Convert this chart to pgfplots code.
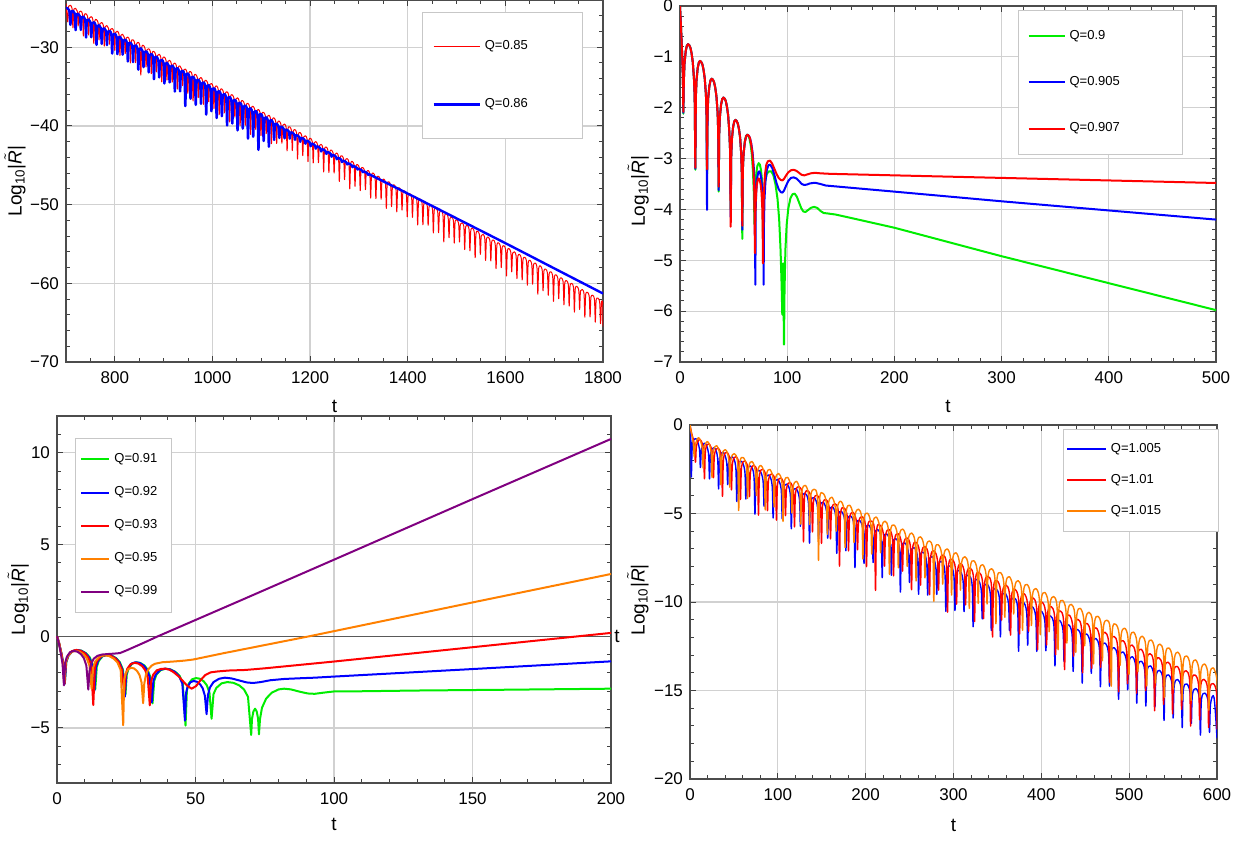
\documentclass[border=0pt]{standalone}
\usepackage{fontspec}
\setmainfont{Liberation Sans}
\usepackage{pgfplots}
\pgfplotsset{compat=1.18}
\definecolor{mgreen}{rgb}{0,0.93,0}
\definecolor{morange}{rgb}{1,0.5,0}
\definecolor{mpurple}{rgb}{0.5,0,0.5}
\pgfplotsset{
  mstyle/.style={
    scale only axis, anchor=south west,
    axis line style={black!70, line width=0.6pt},
    tick style={black!75, line width=0.5pt},
    major tick length=3.2pt, minor tick length=1.8pt,
    xmajorgrids, ymajorgrids,
    major grid style={black!18, line width=0.6pt},
    tick label style={font=\fontsize{8.5}{10}\selectfont},
    every axis label/.append style={font=\fontsize{9.5}{11}\selectfont},
    xticklabel style={yshift=-1.2pt},
    legend cell align=left,
  }
}
\newcommand{\ylab}{Log\textsubscript{10}|$\tilde{\textit{R}}$|}
\begin{document}
\begin{tikzpicture}
\path[use as bounding box] (0,0) rectangle (628pt,420.5pt);
% ---------------- Panel 1 ----------------
\begin{axis}[mstyle, at={(33pt,239.5pt)}, width=268.5pt, height=181pt,
  xmin=700, xmax=1800, ymin=-70, ymax=-24,
  xtick={800,1000,1200,1400,1600,1800}, xticklabels={800,1000,1200,1400,1600,1800},
  ytick={-70,-60,-50,-40,-30}, yticklabels={−70,−60,−50,−40,−30},
  minor xtick={700,750,...,1800}, minor ytick={-70,-68,...,-24},
  xlabel={t}, ylabel={\ylab},
  xlabel style={at={(axis description cs:0.5,-0.124)}, anchor=center},
  ylabel style={at={(axis description cs:-0.095,0.5)}, anchor=center},
  legend style={at={(rel axis cs:0.663,0.967)}, anchor=north west, draw=black!22, fill=white,
    font=\fontsize{6.5}{7.5}\selectfont, inner xsep=5pt, inner ysep=12pt, row sep=19pt},
  legend image code/.code={\draw[#1, sharp plot] (0pt,0pt) -- (23pt,0pt);},
  every axis plot/.append style={smooth, tension=0.5, line join=round},
]
\addplot[red, line width=0.5pt] coordinates {
(700,-24.45)
(703.5,-26.77) (705.5,-24.79) (712.2,-25.02)
(714.2,-27.54) (716.2,-25.16) (722.9,-25.39)
(724.9,-27.31) (726.9,-25.53) (733.6,-25.76)
(735.6,-28.58) (737.6,-25.90) (744.3,-26.13)
(746.3,-28.45) (748.3,-26.27) (755.0,-26.50)
(757.0,-29.52) (759.0,-26.64) (765.7,-26.87)
(767.7,-29.08) (769.7,-27.00) (776.4,-27.23)
(778.4,-29.85) (780.4,-27.37) (787.1,-27.60)
(789.1,-29.62) (791.1,-27.74) (797.8,-27.97)
(799.8,-30.39) (801.8,-28.11) (808.5,-28.34)
(810.5,-31.06) (812.5,-28.48) (819.2,-28.71)
(821.2,-30.83) (823.2,-28.85) (829.9,-29.08)
(831.9,-32.00) (833.9,-29.22) (840.6,-29.45)
(842.6,-31.97) (844.6,-29.59) (851.3,-29.82)
(853.3,-33.54) (855.3,-29.96) (862.0,-30.19)
(864.0,-32.51) (866.0,-30.33) (872.7,-30.56)
(874.7,-33.37) (876.7,-30.69) (883.4,-30.92)
(885.4,-33.14) (887.4,-31.06) (894.1,-31.29)
(896.1,-34.41) (898.1,-31.43) (904.8,-31.66)
(906.8,-34.18) (908.8,-31.80) (915.5,-32.03)
(917.5,-34.45) (919.5,-32.17) (926.2,-32.40)
(928.2,-35.32) (930.2,-32.54) (936.9,-32.77)
(938.9,-34.89) (940.9,-32.91) (947.6,-33.14)
(949.6,-35.86) (951.6,-33.28) (958.3,-33.51)
(960.3,-36.83) (962.3,-33.65) (969.0,-33.88)
(971.0,-36.40) (973.0,-34.02) (979.7,-34.25)
(981.7,-37.26) (983.7,-34.38) (990.4,-34.61)
(992.4,-36.93) (994.4,-34.75) (1001.1,-34.98)
(1003.1,-37.80) (1005.1,-35.12) (1011.8,-35.35)
(1013.8,-38.57) (1015.8,-35.49) (1022.5,-35.72)
(1024.5,-38.34) (1026.5,-35.86) (1033.2,-36.09)
(1035.2,-39.51) (1037.2,-36.23) (1043.9,-36.46)
(1045.9,-38.88) (1047.9,-36.60) (1054.6,-36.83)
(1056.6,-39.95) (1058.6,-36.97) (1065.3,-37.20)
(1067.3,-39.92) (1069.3,-37.34) (1076.0,-37.57)
(1078.0,-41.09) (1080.0,-37.71) (1086.7,-37.94)
(1088.7,-40.45) (1090.7,-38.07) (1097.4,-38.30)
(1099.4,-41.22) (1101.4,-38.44) (1108.1,-38.67)
(1110.1,-40.99) (1112.1,-38.81) (1118.8,-39.04)
(1120.8,-42.26) (1122.8,-39.18) (1129.5,-39.41)
(1131.5,-42.23) (1133.5,-39.55) (1140.2,-39.78)
(1142.2,-42.20) (1144.2,-39.92) (1150.9,-40.15)
(1152.9,-43.17) (1154.9,-40.29) (1161.6,-40.52)
(1163.6,-43.14) (1165.6,-40.66) (1172.3,-40.89)
(1174.3,-44.21) (1176.3,-41.03) (1183.0,-41.26)
(1185.0,-43.78) (1187.0,-41.40) (1193.7,-41.63)
(1195.7,-44.54) (1197.7,-41.76) (1204.4,-41.99)
(1206.4,-44.71) (1208.4,-42.13) (1215.1,-42.36)
(1217.1,-44.68) (1219.1,-42.50) (1225.8,-42.73)
(1227.8,-45.85) (1229.8,-42.87) (1236.5,-43.10)
(1238.5,-45.92) (1240.5,-43.24) (1247.2,-43.47)
(1249.2,-45.99) (1251.2,-43.61) (1257.9,-43.84)
(1259.9,-47.06) (1261.9,-43.98) (1268.6,-44.21)
(1270.6,-46.83) (1272.6,-44.35) (1279.3,-44.58)
(1281.3,-48.00) (1283.3,-44.72) (1290.0,-44.95)
(1292.0,-47.67) (1294.0,-45.09) (1300.7,-45.32)
(1302.7,-48.23) (1304.7,-45.45) (1311.4,-45.68)
(1313.4,-48.10) (1315.4,-45.82) (1322.1,-46.05)
(1324.1,-49.17) (1326.1,-46.19) (1332.8,-46.42)
(1334.8,-49.24) (1336.8,-46.56) (1343.5,-46.79)
(1345.5,-49.31) (1347.5,-46.93) (1354.2,-47.16)
(1356.2,-50.48) (1358.2,-47.30) (1364.9,-47.53)
(1366.9,-50.25) (1368.9,-47.67) (1375.6,-47.90)
(1377.6,-50.92) (1379.6,-48.04) (1386.3,-48.27)
(1388.3,-50.69) (1390.3,-48.41) (1397.0,-48.64)
(1399.0,-51.56) (1401.0,-48.78) (1407.7,-49.01)
(1409.7,-51.62) (1411.7,-49.14) (1418.4,-49.37)
(1420.4,-52.59) (1422.4,-49.51) (1429.1,-49.74)
(1431.1,-52.56) (1433.1,-49.88) (1439.8,-50.11)
(1441.8,-52.63) (1443.8,-50.25) (1450.5,-50.48)
(1452.5,-53.60) (1454.5,-50.62) (1461.2,-50.85)
(1463.2,-53.57) (1465.2,-50.99) (1471.9,-51.22)
(1473.9,-54.74) (1475.9,-51.36) (1482.6,-51.59)
(1484.6,-54.21) (1486.6,-51.73) (1493.3,-51.96)
(1495.3,-54.88) (1497.3,-52.10) (1504.0,-52.33)
(1506.0,-54.75) (1508.0,-52.47) (1514.7,-52.70)
(1516.7,-55.71) (1518.7,-52.83) (1525.4,-53.06)
(1527.4,-55.88) (1529.4,-53.20) (1536.1,-53.43)
(1538.1,-56.75) (1540.1,-53.57) (1546.8,-53.80)
(1548.8,-56.32) (1550.8,-53.94) (1557.5,-54.17)
(1559.5,-57.09) (1561.5,-54.31) (1568.2,-54.54)
(1570.2,-57.16) (1572.2,-54.68) (1578.9,-54.91)
(1580.9,-58.13) (1582.9,-55.05) (1589.6,-55.28)
(1591.6,-58.00) (1593.6,-55.42) (1600.3,-55.65)
(1602.3,-59.07) (1604.3,-55.79) (1611.0,-56.02)
(1613.0,-58.54) (1615.0,-56.16) (1621.7,-56.39)
(1623.7,-59.40) (1625.7,-56.52) (1632.4,-56.75)
(1634.4,-59.57) (1636.4,-56.89) (1643.1,-57.12)
(1645.1,-60.24) (1647.1,-57.26) (1653.8,-57.49)
(1655.8,-60.11) (1657.8,-57.63) (1664.5,-57.86)
(1666.5,-61.38) (1668.5,-58.00) (1675.2,-58.23)
(1677.2,-60.95) (1679.2,-58.37) (1685.9,-58.60)
(1687.9,-61.52) (1689.9,-58.74) (1696.6,-58.97)
(1698.6,-62.29) (1700.6,-59.11) (1707.3,-59.34)
(1709.3,-61.96) (1711.3,-59.48) (1718.0,-59.71)
(1720.0,-62.73) (1722.0,-59.85) (1728.7,-60.08)
(1730.7,-62.89) (1732.7,-60.21) (1739.4,-60.44)
(1741.4,-63.66) (1743.4,-60.58) (1750.1,-60.81)
(1752.1,-63.33) (1754.1,-60.95) (1760.8,-61.18)
(1762.8,-64.30) (1764.8,-61.32) (1771.5,-61.55)
(1773.5,-64.27) (1775.5,-61.69) (1782.2,-61.92)
(1784.2,-64.94) (1786.2,-62.06) (1792.9,-62.29)
(1794.9,-65.11) (1796.9,-62.43) (1799.4,-62.6) (1800,-65.5)
};
\addplot[blue, line width=1.2pt] coordinates {
(700,-25.0) (706.5,-25.3)
(709.0,-27.16) (711.0,-25.46) (717.7,-25.69)
(719.7,-27.83) (721.7,-25.83) (728.4,-26.06)
(730.4,-27.80) (732.4,-26.20) (739.1,-26.43)
(741.1,-28.77) (743.1,-26.57) (749.8,-26.80)
(751.8,-28.74) (753.8,-26.94) (760.5,-27.17)
(762.5,-29.71) (764.5,-27.31) (771.2,-27.54)
(773.2,-29.58) (775.2,-27.68) (781.9,-27.91)
(783.9,-29.74) (785.9,-28.04) (792.6,-28.27)
(794.6,-30.81) (796.6,-28.41) (803.3,-28.64)
(805.3,-30.88) (807.3,-28.78) (814.0,-29.01)
(816.0,-30.95) (818.0,-29.15) (824.7,-29.38)
(826.7,-31.82) (828.7,-29.52) (835.4,-29.75)
(837.4,-31.89) (839.4,-29.89) (846.1,-30.12)
(848.1,-32.86) (850.1,-30.26) (856.8,-30.49)
(858.8,-32.53) (860.8,-30.63) (867.5,-30.86)
(869.5,-33.20) (871.5,-31.00) (878.2,-31.23)
(880.2,-34.07) (882.2,-31.37) (888.9,-31.60)
(890.9,-33.84) (892.9,-31.74) (899.6,-31.97)
(901.6,-34.61) (903.6,-32.11) (910.3,-32.34)
(912.3,-34.47) (914.3,-32.47) (921.0,-32.70)
(923.0,-35.64) (925.0,-32.84) (931.7,-33.07)
(933.7,-35.61) (935.7,-33.21) (942.4,-33.44)
(944.4,-37.48) (946.4,-33.58) (953.1,-33.81)
(955.1,-36.55) (957.1,-33.95) (963.8,-34.18)
(965.8,-37.32) (967.8,-34.32) (974.5,-34.55)
(976.5,-37.19) (978.5,-34.69) (985.2,-34.92)
(987.2,-38.56) (989.2,-35.06) (995.9,-35.29)
(997.9,-38.13) (999.9,-35.43) (1006.6,-35.66)
(1008.6,-39.00) (1010.6,-35.80) (1017.3,-36.03)
(1019.3,-38.77) (1021.3,-36.17) (1028.0,-36.40)
(1030.0,-39.94) (1032.0,-36.54) (1038.7,-36.77)
(1040.7,-39.70) (1042.7,-36.90) (1049.4,-37.13)
(1051.4,-40.57) (1053.4,-37.27) (1060.1,-37.50)
(1062.1,-40.34) (1064.1,-37.64) (1070.8,-37.87)
(1072.8,-41.61) (1074.8,-38.01) (1081.5,-38.24)
(1083.5,-41.38) (1085.5,-38.38) (1092.2,-38.61)
(1094.2,-43.05) (1096.2,-38.75) (1102.9,-38.98)
(1104.9,-41.92) (1106.9,-39.12) (1113.6,-39.35)
(1115.6,-42.64) (1117.6,-39.44) (1124.3,-39.67)
(1126.3,-41.78) (1128.3,-39.78) (1135.0,-40.01)
(1137.0,-41.53) (1139.0,-40.13) (1145.7,-40.36)
(1147.7,-41.58) (1149.7,-40.48) (1156.4,-40.71)
(1158.4,-41.62) (1160.4,-40.82) (1167.1,-41.05)
(1169.1,-41.77) (1171.1,-41.17) (1177.8,-41.40)
(1179.8,-42.02) (1181.8,-41.52) (1188.5,-41.75)
(1190.5,-42.27) (1192.5,-41.87) (1199.2,-42.10)
(1201.2,-42.59) (1203.2,-42.24) (1209.9,-42.47)
(1211.9,-42.89) (1213.9,-42.59) (1220.6,-42.82)
(1222.6,-43.25) (1224.6,-42.95) (1231.3,-43.18)
(1233.3,-43.56) (1235.3,-43.31) (1242.0,-43.54)
(1244.0,-43.92) (1246.0,-43.67) (1252.7,-43.90)
(1254.7,-44.24) (1256.7,-44.04) (1263.4,-44.27)
(1265.4,-44.60) (1267.4,-44.40) (1274.1,-44.63)
(1276.1,-44.90) (1278.1,-44.75) (1284.8,-44.98)
(1286.8,-45.24) (1288.8,-45.09) (1295.5,-45.32)
(1297.5,-45.54) (1299.5,-45.44) (1306.2,-45.67)
(1308.2,-45.88) (1310.2,-45.78) (1316.9,-46.01)
(1318.9,-46.22) (1320.9,-46.12) (1327.6,-46.35)
(1400,-48.6) (1500,-51.75) (1600,-54.9) (1700,-58.1) (1800,-61.3)
};
\legend{{\makebox[42pt][l]{Q=0.85}},{\makebox[42pt][l]{Q=0.86}}}
\end{axis}
% ---------------- Panel 2 ----------------
\begin{axis}[mstyle, at={(340pt,239.5pt)}, width=268pt, height=178pt,
  xmin=0, xmax=500, ymin=-7, ymax=0,
  xtick={0,100,200,300,400,500}, xticklabels={0,100,200,300,400,500},
  ytick={-7,-6,-5,-4,-3,-2,-1,0}, yticklabels={−7,−6,−5,−4,−3,−2,−1,0},
  minor xtick={0,20,...,500}, minor ytick={-7,-6.8,...,0},
  xlabel={t}, ylabel={\ylab},
  xlabel style={at={(axis description cs:0.5,-0.126)}, anchor=center},
  ylabel style={at={(axis description cs:-0.078,0.48)}, anchor=center},
  legend style={at={(rel axis cs:0.631,0.989)}, anchor=north west, draw=black!22, fill=white,
    font=\fontsize{6.5}{7.5}\selectfont, inner xsep=4.5pt, inner ysep=8pt, row sep=13pt},
  legend image code/.code={\draw[#1] (0pt,0pt) -- (18pt,0pt);},
  every axis plot/.append style={line width=1pt, line join=round},
]
\addplot[mgreen] coordinates {
(0,0) (1.0,-0.45) (2.0,-0.95) (2.7,-1.4) (3.1,-2.12)
(3.6,-1.45) (4.2,-1.13) (5.3,-0.89) (6.4,-0.78) (7.5,-0.75) (8.6,-0.77) (9.7,-0.82) (10.8,-0.93) (11.9,-1.10) (13.0,-1.42) (13.7,-1.78) (14.3,-3.22)
(14.8,-1.78) (15.4,-1.46) (16.5,-1.22) (17.6,-1.11) (18.7,-1.08) (19.8,-1.10) (20.9,-1.15) (22.0,-1.26) (23.1,-1.43) (24.2,-1.75) (24.7,-2.11) (25.2,-3.3)
(25.7,-2.13) (26.3,-1.81) (27.4,-1.57) (28.5,-1.46) (29.6,-1.43) (30.7,-1.45) (31.8,-1.50) (32.9,-1.61) (34.0,-1.78) (35.1,-2.10) (35.6,-2.46) (36.1,-3.65)
(36.6,-2.50) (37.2,-2.18) (38.3,-1.94) (39.4,-1.83) (40.5,-1.80) (41.6,-1.82) (42.7,-1.87) (43.8,-1.98) (44.9,-2.15) (46.0,-2.47) (46.7,-2.83) (47.3,-4.0)
(47.8,-2.94) (48.4,-2.62) (49.5,-2.38) (50.6,-2.27) (51.7,-2.24) (52.8,-2.26) (53.9,-2.31) (55.0,-2.42) (56.1,-2.59) (57.1,-2.91) (57.6,-3.27) (58.1,-4.58)
(58.6,-3.23) (59.3,-2.91) (60.4,-2.67) (61.5,-2.56) (62.6,-2.53) (63.7,-2.55) (64.8,-2.61) (65.9,-2.73) (67.0,-2.92) (68.1,-3.27) (68.9,-3.7) (69.5,-4.3)
(69.8,-4.0) (70.3,-3.6) (71.2,-3.28) (72.2,-3.14) (73.4,-3.09) (74.5,-3.12) (75.5,-3.22) (76.4,-3.4) (77.0,-3.75) (77.3,-4.1) (77.6,-5.0)
(77.9,-4.2) (78.4,-3.75) (79.4,-3.45) (81,-3.3) (83,-3.25) (85,-3.25) (87,-3.32) (89,-3.5) (91,-3.8) (92.5,-4.2) (93.8,-4.8) (94.8,-5.5) (95.4,-6.07) (96.2,-5.06) (97.0,-6.66) (97.5,-5.6) (98.3,-4.8) (99.5,-4.3) (101,-3.98) (103,-3.78) (105,-3.7) (107,-3.69) (109,-3.75) (111,-3.86) (113,-3.97) (115,-4.04) (117,-4.05) (119,-4.02) (122,-3.97) (125,-3.95) (128,-3.97) (131,-4.03) (134,-4.07) (138,-4.08) (145,-4.1) (160,-4.17) (200,-4.36) (300,-4.92) (400,-5.45) (500,-5.98)
};
\addplot[blue] coordinates {
(0,0) (1.0,-0.45) (2.0,-0.95) (2.7,-1.4) (3.1,-2.1)
(3.6,-1.45) (4.2,-1.13) (5.3,-0.89) (6.4,-0.78) (7.5,-0.75) (8.6,-0.77) (9.7,-0.82) (10.8,-0.93) (11.9,-1.10) (13.0,-1.42) (13.7,-1.78) (14.3,-3.2)
(14.8,-1.78) (15.4,-1.46) (16.5,-1.22) (17.6,-1.11) (18.7,-1.08) (19.8,-1.10) (20.9,-1.15) (22.0,-1.26) (23.1,-1.43) (24.2,-1.75) (24.7,-2.11) (25.2,-4.01)
(25.7,-2.13) (26.3,-1.81) (27.4,-1.57) (28.5,-1.46) (29.6,-1.43) (30.7,-1.45) (31.8,-1.50) (32.9,-1.61) (34.0,-1.78) (35.1,-2.10) (35.6,-2.46) (36.1,-3.62)
(36.6,-2.50) (37.2,-2.18) (38.3,-1.94) (39.4,-1.83) (40.5,-1.80) (41.6,-1.82) (42.7,-1.87) (43.8,-1.98) (44.9,-2.15) (46.0,-2.47) (46.7,-2.83) (47.3,-4.15)
(47.8,-2.94) (48.4,-2.62) (49.5,-2.38) (50.6,-2.27) (51.7,-2.24) (52.8,-2.26) (53.9,-2.31) (55.0,-2.42) (56.1,-2.59) (57.1,-2.91) (57.6,-3.27) (58.1,-4.4)
(58.6,-3.23) (59.3,-2.91) (60.5,-2.67) (61.7,-2.56) (62.9,-2.53) (64.1,-2.55) (65.3,-2.60) (66.5,-2.71) (67.7,-2.88) (68.9,-3.20) (69.6,-3.56) (70.3,-5.48)
(70.6,-4.0) (71.1,-3.65) (72.0,-3.38) (73.0,-3.27) (73.9,-3.25) (74.9,-3.29) (75.8,-3.4) (76.7,-3.6) (77.4,-3.95) (77.7,-4.3) (78.0,-5.48)
(78.3,-4.3) (78.8,-3.8) (79.7,-3.45) (81,-3.22) (82.5,-3.13) (84,-3.12) (86,-3.18) (88,-3.32) (90,-3.48) (92,-3.6) (94,-3.66) (95.5,-3.67) (97,-3.63) (99,-3.53) (101,-3.44) (103.5,-3.38) (106,-3.37) (108.5,-3.39) (111,-3.44) (113.5,-3.5) (116,-3.52) (118.5,-3.51) (121,-3.49) (124,-3.48) (127,-3.48) (131,-3.5) (136,-3.53) (200,-3.65) (300,-3.84) (400,-4.02) (500,-4.2)
};
\addplot[red] coordinates {
(0,0) (1.0,-0.45) (2.0,-0.95) (2.7,-1.4) (3.1,-2.08)
(3.6,-1.45) (4.2,-1.13) (5.3,-0.89) (6.4,-0.78) (7.5,-0.75) (8.6,-0.77) (9.7,-0.82) (10.8,-0.93) (11.9,-1.10) (13.0,-1.42) (13.7,-1.78) (14.3,-3.18)
(14.8,-1.78) (15.4,-1.46) (16.5,-1.22) (17.6,-1.11) (18.7,-1.08) (19.8,-1.10) (20.9,-1.15) (22.0,-1.26) (23.1,-1.43) (24.2,-1.75) (24.7,-2.11) (25.2,-3.21)
(25.7,-2.13) (26.3,-1.81) (27.4,-1.57) (28.5,-1.46) (29.6,-1.43) (30.7,-1.45) (31.8,-1.50) (32.9,-1.61) (34.0,-1.78) (35.1,-2.10) (35.6,-2.46) (36.1,-3.55)
(36.6,-2.50) (37.2,-2.18) (38.3,-1.94) (39.4,-1.83) (40.5,-1.80) (41.6,-1.82) (42.7,-1.87) (43.8,-1.98) (44.9,-2.15) (46.0,-2.47) (46.7,-2.83) (47.3,-4.34)
(47.8,-2.94) (48.4,-2.62) (49.5,-2.38) (50.6,-2.27) (51.7,-2.24) (52.8,-2.26) (53.9,-2.31) (55.0,-2.42) (56.1,-2.59) (57.1,-2.91) (57.6,-3.27) (58.1,-4.32)
(58.6,-3.23) (59.3,-2.91) (60.5,-2.67) (61.7,-2.56) (62.9,-2.53) (64.1,-2.55) (65.3,-2.60) (66.4,-2.72) (67.5,-2.90) (68.6,-3.25) (69.3,-3.65) (69.9,-4.86)
(70.2,-4.2) (70.7,-3.8) (71.6,-3.52) (72.5,-3.42) (73.4,-3.39) (74.3,-3.42) (75.2,-3.5) (76.1,-3.68) (76.8,-4.0) (77.1,-4.4) (77.4,-5.06)
(77.7,-4.2) (78.2,-3.7) (79.2,-3.32) (80.5,-3.12) (82,-3.05) (84,-3.04) (86,-3.1) (88,-3.2) (90,-3.3) (92,-3.38) (94,-3.42) (95.5,-3.43) (97,-3.4) (99,-3.33) (101,-3.27) (103.5,-3.23) (106,-3.22) (108.5,-3.24) (111,-3.28) (113.5,-3.32) (116,-3.33) (119,-3.31) (122,-3.29) (126,-3.28) (131,-3.29) (140,-3.30) (500,-3.48)
};
\legend{{\makebox[50pt][l]{Q=0.9}},{\makebox[50pt][l]{Q=0.905}},{\makebox[50pt][l]{Q=0.907}}}
\end{axis}
% ---------------- Panel 3 ----------------
\begin{axis}[mstyle, at={(28.5pt,29pt)}, width=277pt, height=183.5pt, clip=false,
  xmin=0, xmax=200, ymin=-8, ymax=12,
  xtick={0,50,100,150,200}, xticklabels={0,50,100,150,200},
  ytick={-5,0,5,10}, yticklabels={−5,0,5,10},
  minor xtick={0,10,...,200}, minor ytick={-8,-7,...,12},
  xlabel={t}, ylabel={\ylab},
  xlabel style={at={(axis description cs:0.5,-0.114)}, anchor=center},
  ylabel style={at={(axis description cs:-0.07,0.5)}, anchor=center},
  legend style={at={(rel axis cs:0.0325,0.94)}, anchor=north west, draw=black!22, fill=white,
    font=\fontsize{6.5}{7.5}\selectfont, inner xsep=2.5pt, inner ysep=5.5pt, row sep=6.5pt},
  legend image code/.code={\draw[#1] (0pt,0pt) -- (14pt,0pt);},
  every axis plot/.append style={line width=1pt, line join=round},
]
\draw[black!65, line width=0.6pt] (axis cs:0,0) -- (axis cs:200,0);
\node[anchor=west, font=\fontsize{9.5}{11}\selectfont, inner sep=1.5pt] at (axis cs:200,0) {t};
\addplot[mgreen] coordinates {
(0,0) (0.8,-0.4) (1.6,-0.95) (2.3,-1.5) (2.8,-2.6)
(3.35,-1.41) (4.12,-1.07) (5.55,-0.82) (7.2,-0.75) (8.85,-0.79) (10.5,-0.93) (11.82,-1.15) (12.92,-1.55) (13.8,-2.9)
(14.35,-1.68) (15.1,-1.34) (16.5,-1.09) (18.2,-1.02) (19.8,-1.06) (21.4,-1.20) (22.7,-1.42) (23.8,-1.82) (24.7,-3.2)
(25.2,-2.08) (25.9,-1.74) (27.15,-1.49) (28.6,-1.42) (30.1,-1.46) (31.6,-1.60) (32.7,-1.82) (33.7,-2.22) (34.5,-3.66)
(35.1,-2.43) (35.9,-2.09) (37.5,-1.84) (39.3,-1.77) (41.0,-1.81) (42.8,-1.95) (44.3,-2.17) (45.4,-2.57) (46.4,-4.87)
(46.9,-2.94) (47.5,-2.60) (48.75,-2.35) (50.2,-2.28) (51.6,-2.32) (53.0,-2.46) (54.1,-2.68) (55.05,-3.08) (55.8,-4.5)
(56.5,-3.16) (57.5,-2.82) (59.4,-2.57) (61.5,-2.5) (63.7,-2.54) (65.8,-2.68) (67.5,-2.9) (68.95,-3.3) (70.1,-5.38)
(70.4,-4.5) (70.9,-4.1) (71.5,-3.95) (72.1,-4.1) (72.6,-4.5) (72.9,-5.35)
(73.3,-4.5) (74,-3.9) (75.5,-3.4) (77.5,-3.08) (80,-2.9) (82,-2.86) (84.5,-2.9) (87.5,-3.02) (90.5,-3.12) (93,-3.14) (96,-3.08) (100,-3.01) (110,-3.0) (130,-2.96) (160,-2.92) (200,-2.86)
};
\addplot[blue] coordinates {
(0,0) (0.8,-0.4) (1.6,-0.95) (2.3,-1.5) (2.8,-2.6)
(3.33,-1.41) (4.08,-1.07) (5.48,-0.82) (7.08,-0.75) (8.69,-0.79) (10.29,-0.93) (11.57,-1.15) (12.64,-1.55) (13.5,-2.98)
(14.05,-1.68) (14.82,-1.34) (16.25,-1.09) (17.9,-1.02) (19.55,-1.06) (21.2,-1.20) (22.52,-1.42) (23.62,-1.82) (24.5,-3.3)
(24.99,-2.08) (25.66,-1.74) (26.93,-1.49) (28.38,-1.42) (29.84,-1.46) (31.29,-1.60) (32.45,-1.82) (33.42,-2.22) (34.2,-3.6)
(34.8,-2.43) (35.64,-2.09) (37.2,-1.84) (39.0,-1.77) (40.8,-1.81) (42.6,-1.95) (44.04,-2.17) (45.24,-2.57) (46.2,-4.6)
(46.59,-3.10) (47.14,-2.76) (48.15,-2.51) (49.32,-2.44) (50.49,-2.48) (51.66,-2.62) (52.6,-2.84) (53.38,-3.24) (54.0,-4.25)
(54.5,-3.2) (55.2,-2.8) (56.5,-2.5) (58.5,-2.32) (60.6,-2.26) (63,-2.3) (66,-2.42) (68.5,-2.52) (70.8,-2.55) (73.5,-2.5) (77,-2.4) (82,-2.33) (88,-2.29) (93,-2.26) (100,-2.2) (150,-1.79) (200,-1.37)
};
\addplot[red] coordinates {
(0,0) (0.8,-0.4) (1.6,-0.95) (2.2,-1.5) (2.7,-2.6)
(3.22,-1.41) (3.95,-1.07) (5.3,-0.82) (6.86,-0.75) (8.42,-0.79) (9.98,-0.93) (11.23,-1.15) (12.27,-1.55) (13.1,-3.75)
(13.66,-1.68) (14.44,-1.34) (15.9,-1.09) (17.58,-1.02) (19.26,-1.06) (20.94,-1.20) (22.28,-1.42) (23.4,-1.82) (24.3,-3.1)
(24.76,-2.11) (25.4,-1.77) (26.6,-1.52) (27.98,-1.45) (29.36,-1.49) (30.74,-1.63) (31.84,-1.85) (32.76,-2.25) (33.5,-3.77)
(34.0,-2.45) (34.7,-2.1) (36.0,-1.86) (37.6,-1.78) (39.0,-1.77) (40.5,-1.82) (42,-1.95) (44,-2.2) (45.5,-2.45) (47,-2.7) (48.6,-2.86) (50.2,-2.72) (51.8,-2.4) (53.5,-2.12) (55.5,-1.97) (58,-1.92) (62,-1.87) (68,-1.84) (75,-1.75) (100,-1.38) (150,-0.6) (200,0.18)
};
\addplot[morange] coordinates {
(0,0) (0.8,-0.4) (1.5,-0.95) (2.1,-1.5) (2.6,-2.6)
(3.1,-1.46) (3.79,-1.12) (5.08,-0.87) (6.56,-0.8) (8.05,-0.84) (9.53,-0.98) (10.72,-1.2) (11.71,-1.6) (12.5,-2.86)
(13.07,-1.70) (13.87,-1.36) (15.35,-1.11) (17.06,-1.04) (18.77,-1.08) (20.48,-1.22) (21.85,-1.44) (22.99,-1.84) (23.9,-4.85)
(24.26,-2.38) (24.76,-2.04) (25.7,-1.79) (26.78,-1.72) (27.86,-1.76) (28.94,-1.9) (29.8,-2.12) (30.52,-2.52) (31.1,-3.65)
(31.5,-2.6) (32.1,-2.1) (33.0,-1.8) (34.2,-1.6) (35.4,-1.5) (38,-1.42) (42,-1.38) (46,-1.33) (49.2,-1.27) (60,-0.93) (91.2,0.0) (150,1.84) (200,3.39)
};
\addplot[mpurple] coordinates {
(0,0) (0.7,-0.4) (1.4,-0.95) (2.0,-1.5) (2.5,-2.68)
(2.94,-1.46) (3.56,-1.12) (4.7,-0.87) (6.02,-0.8) (7.34,-0.84) (8.66,-0.98) (9.72,-1.2) (10.6,-1.6) (11.3,-2.91)
(11.7,-1.95) (12.3,-1.5) (13.3,-1.22) (14.6,-1.07) (16.2,-1.0) (18.5,-0.97) (20.5,-0.95) (22.7,-0.92) (25,-0.78) (28,-0.58) (31,-0.38) (36.5,0.0) (66.6,1.97) (100,4.17) (150,7.47) (200,10.75)
};
\legend{{\makebox[24pt][l]{Q=0.91}},{\makebox[24pt][l]{Q=0.92}},{\makebox[24pt][l]{Q=0.93}},{\makebox[24pt][l]{Q=0.95}},{\makebox[24pt][l]{Q=0.99}}}
\end{axis}
% ---------------- Panel 4 ----------------
\begin{axis}[mstyle, at={(345pt,31pt)}, width=263.5pt, height=177pt,
  xmin=0, xmax=600, ymin=-20, ymax=0,
  xtick={0,100,200,300,400,500,600}, xticklabels={0,100,200,300,400,500,600},
  ytick={-20,-15,-10,-5,0}, yticklabels={−20,−15,−10,−5,0},
  minor xtick={0,20,...,600}, minor ytick={-20,-19,...,0},
  xlabel={t}, ylabel={\ylab},
  xlabel style={at={(axis description cs:0.5,-0.13)}, anchor=center},
  ylabel style={at={(axis description cs:-0.099,0.506)}, anchor=center},
  legend style={at={(rel axis cs:0.708,0.99)}, anchor=north west, draw=black!22, fill=white,
    font=\fontsize{6.5}{7.5}\selectfont, inner xsep=1.5pt, inner ysep=5pt, row sep=5.5pt},
  legend image code/.code={\draw[#1, sharp plot] (0pt,0pt) -- (19.5pt,0pt);},
  every axis plot/.append style={line width=0.7pt, smooth, tension=0.55, line join=round},
]
\addplot[blue] coordinates {
(0,0) (0.8,-0.6)
(1.5,-2.94) (2.7,-1.12) (6.67,-0.77) (10.65,-1.32)
(11.85,-2.40) (13.05,-1.38) (17.02,-1.03) (21.0,-1.58)
(22.2,-3.05) (23.4,-1.63) (27.37,-1.28) (31.35,-1.83)
(32.55,-3.61) (33.75,-1.89) (37.72,-1.54) (41.7,-2.09)
(42.9,-3.37) (44.1,-2.15) (48.07,-1.80) (52.05,-2.35)
(53.25,-4.32) (54.45,-2.40) (58.42,-2.05) (62.4,-2.60)
(63.6,-4.18) (64.8,-2.66) (68.77,-2.31) (72.75,-2.86)
(73.95,-5.04) (75.15,-2.92) (79.12,-2.57) (83.1,-3.12)
(84.3,-4.59) (85.5,-3.17) (89.47,-2.82) (93.45,-3.37)
(94.65,-5.25) (95.85,-3.43) (99.82,-3.08) (103.8,-3.63)
(105.0,-5.31) (106.2,-3.69) (110.17,-3.34) (114.15,-3.89)
(115.35,-5.86) (116.55,-3.94) (120.52,-3.59) (124.5,-4.14)
(125.7,-5.72) (126.9,-4.20) (130.87,-3.85) (134.85,-4.40)
(136.05,-6.68) (137.25,-4.46) (141.22,-4.11) (145.2,-4.66)
(146.4,-6.43) (147.6,-4.71) (151.57,-4.36) (155.55,-4.91)
(156.75,-6.39) (157.95,-4.97) (161.92,-4.62) (165.9,-5.17)
(167.1,-7.25) (168.3,-5.23) (172.27,-4.88) (176.25,-5.43)
(177.45,-7.10) (178.65,-5.48) (182.62,-5.13) (186.6,-5.68)
(187.8,-8.06) (189.0,-5.74) (192.97,-5.39) (196.95,-5.94)
(198.15,-7.82) (199.35,-6.00) (203.32,-5.65) (207.3,-6.20)
(208.5,-7.77) (209.7,-6.25) (213.67,-5.90) (217.65,-6.45)
(218.85,-8.63) (220.05,-6.51) (224.02,-6.16) (228.0,-6.71)
(229.2,-8.49) (230.4,-6.77) (234.37,-6.42) (238.35,-6.97)
(239.55,-9.44) (240.75,-7.02) (244.72,-6.67) (248.7,-7.22)
(249.9,-8.90) (251.1,-7.28) (255.07,-6.93) (259.05,-7.48)
(260.25,-9.56) (261.45,-7.54) (265.42,-7.19) (269.4,-7.74)
(270.6,-9.61) (271.8,-7.79) (275.77,-7.44) (279.75,-7.99)
(280.95,-9.57) (282.15,-8.05) (286.12,-7.70) (290.1,-8.25)
(291.3,-10.53) (292.5,-8.31) (296.47,-7.96) (300.45,-8.51)
(301.65,-10.48) (302.85,-8.56) (306.82,-8.21) (310.8,-8.76)
(312.0,-10.54) (313.2,-8.82) (317.17,-8.47) (321.15,-9.02)
(322.35,-11.40) (323.55,-9.08) (327.52,-8.73) (331.5,-9.28)
(332.7,-10.95) (333.9,-9.33) (337.87,-8.98) (341.85,-9.53)
(343.05,-11.61) (344.25,-9.59) (348.22,-9.24) (352.2,-9.79)
(353.4,-11.97) (354.6,-9.85) (358.57,-9.50) (362.55,-10.05)
(363.75,-11.62) (364.95,-10.10) (368.92,-9.75) (372.9,-10.30)
(374.1,-12.78) (375.3,-10.36) (379.27,-10.01) (383.25,-10.56)
(384.45,-12.44) (385.65,-10.62) (389.62,-10.27) (393.6,-10.82)
(394.8,-12.79) (396.0,-10.87) (399.97,-10.52) (403.95,-11.07)
(405.15,-12.75) (406.35,-11.13) (410.32,-10.78) (414.3,-11.33)
(415.5,-13.61) (416.7,-11.39) (420.67,-11.04) (424.65,-11.59)
(425.85,-13.36) (427.05,-11.64) (431.02,-11.29) (435.0,-11.84)
(436.2,-13.92) (437.4,-11.90) (441.37,-11.55) (445.35,-12.10)
(446.55,-14.58) (447.75,-12.16) (451.72,-11.81) (455.7,-12.36)
(456.9,-14.03) (458.1,-12.41) (462.07,-12.06) (466.05,-12.61)
(467.25,-14.79) (468.45,-12.67) (472.42,-12.32) (476.4,-12.87)
(477.6,-14.75) (478.8,-12.93) (482.77,-12.58) (486.75,-13.13)
(487.95,-15.50) (489.15,-13.18) (493.12,-12.83) (497.1,-13.38)
(498.3,-14.96) (499.5,-13.44) (503.47,-13.09) (507.45,-13.64)
(508.65,-15.72) (509.85,-13.70) (513.82,-13.35) (517.8,-13.90)
(519.0,-15.88) (520.2,-13.96) (524.17,-13.61) (528.15,-14.16)
(529.35,-15.93) (530.55,-14.21) (534.52,-13.86) (538.5,-14.41)
(539.7,-16.69) (540.9,-14.47) (544.87,-14.12) (548.85,-14.67)
(550.05,-16.55) (551.25,-14.73) (555.22,-14.38) (559.2,-14.93)
(560.4,-17.10) (561.6,-14.98) (565.57,-14.63) (569.55,-15.18)
(570.75,-16.86) (571.95,-15.24) (575.92,-14.89) (579.9,-15.44)
(581.1,-17.52) (582.3,-15.50) (586.27,-15.15) (590.25,-15.70)
(591.45,-17.37) (592.65,-15.75) (596.62,-15.40) (600,-17.7)
};
\addplot[red] coordinates {
(0,0) (2,-0.5) (4.5,-1.0)
(6.2,-2.10) (7.4,-1.18) (11.32,-0.82) (15.25,-1.36)
(16.45,-3.04) (17.65,-1.42) (21.57,-1.06) (25.5,-1.60)
(26.7,-2.98) (27.9,-1.66) (31.82,-1.30) (35.75,-1.84)
(36.95,-4.03) (38.15,-1.91) (42.07,-1.55) (46.0,-2.09)
(47.2,-3.67) (48.4,-2.15) (52.32,-1.79) (56.25,-2.33)
(57.45,-4.21) (58.65,-2.39) (62.57,-2.03) (66.5,-2.57)
(67.7,-4.05) (68.9,-2.63) (72.82,-2.27) (76.75,-2.81)
(77.95,-5.09) (79.15,-2.87) (83.07,-2.51) (87.0,-3.05)
(88.2,-4.84) (89.4,-3.12) (93.32,-2.76) (97.25,-3.30)
(98.45,-5.38) (99.65,-3.36) (103.57,-3.00) (107.5,-3.54)
(108.7,-5.12) (109.9,-3.60) (113.82,-3.24) (117.75,-3.78)
(118.95,-5.76) (120.15,-3.84) (124.07,-3.48) (128.0,-4.02)
(129.2,-6.60) (130.4,-4.08) (134.32,-3.72) (138.25,-4.26)
(139.45,-6.04) (140.65,-4.32) (144.57,-3.96) (148.5,-4.50)
(149.7,-6.69) (150.9,-4.57) (154.82,-4.21) (158.75,-4.75)
(159.95,-6.43) (161.15,-4.81) (165.07,-4.45) (169.0,-4.99)
(170.2,-7.97) (171.4,-5.05) (175.32,-4.69) (179.25,-5.23)
(180.45,-7.11) (181.65,-5.29) (185.57,-4.93) (189.5,-5.47)
(190.7,-7.05) (191.9,-5.53) (195.82,-5.17) (199.75,-5.71)
(200.95,-8.00) (202.15,-5.78) (206.07,-5.42) (210.0,-5.96)
(211.2,-9.34) (212.4,-6.02) (216.32,-5.66) (220.25,-6.20)
(221.45,-7.98) (222.65,-6.26) (226.57,-5.90) (230.5,-6.44)
(231.7,-8.52) (232.9,-6.50) (236.82,-6.14) (240.75,-6.68)
(241.95,-8.26) (243.15,-6.74) (247.07,-6.38) (251.0,-6.92)
(252.2,-9.31) (253.4,-6.99) (257.32,-6.63) (261.25,-7.17)
(262.45,-9.05) (263.65,-7.23) (267.57,-6.87) (271.5,-7.41)
(272.7,-9.59) (273.9,-7.47) (277.82,-7.11) (281.75,-7.65)
(282.95,-9.33) (284.15,-7.71) (288.07,-7.35) (292.0,-7.89)
(293.2,-10.57) (294.4,-7.95) (298.32,-7.59) (302.25,-8.13)
(303.45,-10.12) (304.65,-8.20) (308.57,-7.84) (312.5,-8.38)
(313.7,-10.16) (314.9,-8.44) (318.82,-8.08) (322.75,-8.62)
(323.95,-11.10) (325.15,-8.68) (329.07,-8.32) (333.0,-8.86)
(334.2,-10.94) (335.4,-8.92) (339.32,-8.56) (343.25,-9.10)
(344.45,-11.98) (345.65,-9.16) (349.57,-8.80) (353.5,-9.34)
(354.7,-11.02) (355.9,-9.40) (359.82,-9.04) (363.75,-9.58)
(364.95,-11.87) (366.15,-9.65) (370.07,-9.29) (374.0,-9.83)
(375.2,-11.81) (376.4,-9.89) (380.32,-9.53) (384.25,-10.07)
(385.45,-11.65) (386.65,-10.13) (390.57,-9.77) (394.5,-10.31)
(395.7,-12.69) (396.9,-10.37) (400.82,-10.01) (404.75,-10.55)
(405.95,-12.43) (407.15,-10.61) (411.07,-10.25) (415.0,-10.79)
(416.2,-12.98) (417.4,-10.86) (421.32,-10.50) (425.25,-11.04)
(426.45,-13.82) (427.65,-11.10) (431.57,-10.74) (435.5,-11.28)
(436.7,-13.06) (437.9,-11.34) (441.82,-10.98) (445.75,-11.52)
(446.95,-14.00) (448.15,-11.58) (452.07,-11.22) (456.0,-11.76)
(457.2,-13.74) (458.4,-11.82) (462.32,-11.46) (466.25,-12.00)
(467.45,-13.69) (468.65,-12.07) (472.57,-11.71) (476.5,-12.25)
(477.7,-14.53) (478.9,-12.31) (482.82,-11.95) (486.75,-12.49)
(487.95,-15.07) (489.15,-12.55) (493.07,-12.19) (497.0,-12.73)
(498.2,-14.61) (499.4,-12.79) (503.32,-12.43) (507.25,-12.97)
(508.45,-15.15) (509.65,-13.03) (513.57,-12.67) (517.5,-13.21)
(518.7,-15.00) (519.9,-13.28) (523.82,-12.92) (527.75,-13.46)
(528.95,-16.14) (530.15,-13.52) (534.07,-13.16) (538.0,-13.70)
(539.2,-15.78) (540.4,-13.76) (544.32,-13.40) (548.25,-13.94)
(549.45,-16.32) (550.65,-14.00) (554.57,-13.64) (558.5,-14.18)
(559.7,-16.06) (560.9,-14.24) (564.82,-13.88) (568.75,-14.42)
(569.95,-17.01) (571.15,-14.49) (575.07,-14.13) (579.0,-14.67)
(580.2,-16.65) (581.4,-14.73) (585.32,-14.37) (589.25,-14.91)
(590.45,-17.09) (591.65,-14.97) (595.57,-14.61) (599.5,-15.15) (600,-17.2)
};
\addplot[morange] coordinates {
(0,0) (1.5,-0.45) (3.5,-0.95)
(4.9,-1.81) (6.1,-1.09) (9.95,-0.72) (13.8,-1.26)
(15.0,-2.43) (16.2,-1.31) (20.05,-0.94) (23.9,-1.48)
(25.1,-2.96) (26.3,-1.54) (30.15,-1.17) (34.0,-1.71)
(35.2,-3.38) (36.4,-1.76) (40.25,-1.39) (44.1,-1.93)
(45.3,-3.51) (46.5,-1.99) (50.35,-1.62) (54.2,-2.16)
(55.4,-4.83) (56.6,-2.21) (60.45,-1.84) (64.3,-2.38)
(65.5,-4.15) (66.7,-2.43) (70.55,-2.06) (74.4,-2.60)
(75.6,-3.98) (76.8,-2.66) (80.65,-2.29) (84.5,-2.83)
(85.7,-4.80) (86.9,-2.88) (90.75,-2.51) (94.6,-3.05)
(95.8,-4.63) (97.0,-3.11) (100.85,-2.74) (104.7,-3.28)
(105.9,-5.45) (107.1,-3.33) (110.95,-2.96) (114.8,-3.50)
(116.0,-4.97) (117.2,-3.55) (121.05,-3.18) (124.9,-3.72)
(126.1,-5.60) (127.3,-3.78) (131.15,-3.41) (135.0,-3.95)
(136.2,-5.62) (137.4,-4.00) (141.25,-3.63) (145.1,-4.17)
(146.3,-7.65) (147.5,-4.23) (151.35,-3.86) (155.2,-4.40)
(156.4,-6.17) (157.6,-4.45) (161.45,-4.08) (165.3,-4.62)
(166.5,-6.00) (167.7,-4.68) (171.55,-4.31) (175.4,-4.85)
(176.6,-6.92) (177.8,-4.90) (181.65,-4.53) (185.5,-5.07)
(186.7,-6.64) (187.9,-5.12) (191.75,-4.75) (195.6,-5.29)
(196.8,-7.57) (198.0,-5.35) (201.85,-4.98) (205.7,-5.52)
(206.9,-7.29) (208.1,-5.57) (211.95,-5.20) (215.8,-5.74)
(217.0,-7.22) (218.2,-5.80) (222.05,-5.43) (225.9,-5.97)
(227.1,-8.44) (228.3,-6.02) (232.15,-5.65) (236.0,-6.19)
(237.2,-8.07) (238.4,-6.25) (242.25,-5.88) (246.1,-6.42)
(247.3,-7.99) (248.5,-6.47) (252.35,-6.10) (256.2,-6.64)
(257.4,-8.81) (258.6,-6.69) (262.45,-6.32) (266.3,-6.86)
(267.5,-8.64) (268.7,-6.92) (272.55,-6.55) (276.4,-7.09)
(277.6,-9.96) (278.8,-7.14) (282.65,-6.77) (286.5,-7.31)
(287.7,-8.99) (288.9,-7.37) (292.75,-7.00) (296.6,-7.54)
(297.8,-9.61) (299.0,-7.59) (302.85,-7.22) (306.7,-7.76)
(307.9,-9.33) (309.1,-7.81) (312.95,-7.44) (316.8,-7.98)
(318.0,-10.36) (319.2,-8.04) (323.05,-7.67) (326.9,-8.21)
(328.1,-10.08) (329.3,-8.26) (333.15,-7.89) (337.0,-8.43)
(338.2,-10.11) (339.4,-8.49) (343.25,-8.12) (347.1,-8.66)
(348.3,-11.23) (349.5,-8.71) (353.35,-8.34) (357.2,-8.88)
(358.4,-10.86) (359.6,-8.94) (363.45,-8.57) (367.3,-9.11)
(368.5,-10.68) (369.7,-9.16) (373.55,-8.79) (377.4,-9.33)
(378.6,-11.60) (379.8,-9.38) (383.65,-9.01) (387.5,-9.55)
(388.7,-11.33) (389.9,-9.61) (393.75,-9.24) (397.6,-9.78)
(398.8,-11.85) (400.0,-9.83) (403.85,-9.46) (407.7,-10.00)
(408.9,-11.68) (410.1,-10.06) (413.95,-9.69) (417.8,-10.23)
(419.0,-12.70) (420.2,-10.28) (424.05,-9.91) (427.9,-10.45)
(429.1,-12.32) (430.3,-10.50) (434.15,-10.13) (438.0,-10.67)
(439.2,-12.85) (440.4,-10.73) (444.25,-10.36) (448.1,-10.90)
(449.3,-12.47) (450.5,-10.95) (454.35,-10.58) (458.2,-11.12)
(459.4,-13.50) (460.6,-11.18) (464.45,-10.81) (468.3,-11.35)
(469.5,-13.32) (470.7,-11.40) (474.55,-11.03) (478.4,-11.57)
(479.6,-14.75) (480.8,-11.63) (484.65,-11.26) (488.5,-11.80)
(489.7,-13.57) (490.9,-11.85) (494.75,-11.48) (498.6,-12.02)
(499.8,-14.09) (501.0,-12.07) (504.85,-11.70) (508.7,-12.24)
(509.9,-13.92) (511.1,-12.30) (514.95,-11.93) (518.8,-12.47)
(520.0,-14.74) (521.2,-12.52) (525.05,-12.15) (528.9,-12.69)
(530.1,-14.57) (531.3,-12.75) (535.15,-12.38) (539.0,-12.92)
(540.2,-15.39) (541.4,-12.97) (545.25,-12.60) (549.1,-13.14)
(550.3,-14.92) (551.5,-13.20) (555.35,-12.83) (559.2,-13.37)
(560.4,-15.54) (561.6,-13.42) (565.45,-13.05) (569.3,-13.59)
(570.5,-15.56) (571.7,-13.64) (575.55,-13.27) (579.4,-13.81)
(580.6,-15.39) (581.8,-13.87) (585.65,-13.50) (589.5,-14.04)
(590.7,-16.11) (591.9,-14.09) (595.75,-13.72) (599.6,-14.26) (600,-14.9)
};
\legend{{\makebox[50pt][l]{Q=1.005}},{\makebox[50pt][l]{Q=1.01}},{\makebox[50pt][l]{Q=1.015}}}
\end{axis}
\end{tikzpicture}
\end{document}
